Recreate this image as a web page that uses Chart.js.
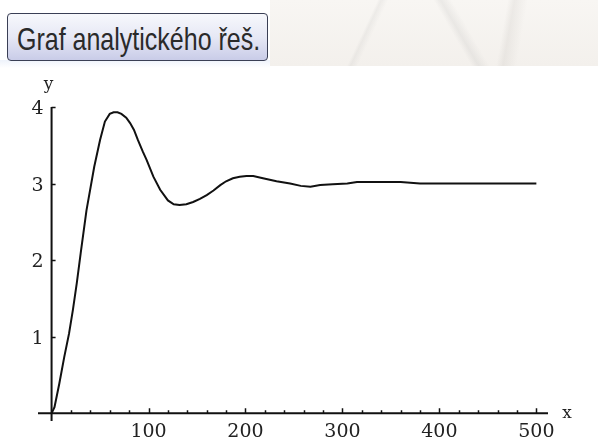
<!DOCTYPE html>
<html>
<head>
<meta charset="utf-8">
<script src="https://cdn.jsdelivr.net/npm/chart.js@4"></script>
<style>
  html, body { margin: 0; padding: 0; background: #fff; }
  #wrap { position: relative; width: 598px; height: 439px; overflow: hidden; }
  #deco {
    position: absolute; left: 270px; top: 0; width: 328px; height: 66px;
    background:
      linear-gradient(115deg, transparent 30%, rgba(160,160,160,0.12) 31%, transparent 33%),
      linear-gradient(60deg, transparent 55%, rgba(160,160,160,0.15) 57%, transparent 60%),
      linear-gradient(100deg, transparent 70%, rgba(170,165,160,0.15) 72%, transparent 76%),
      linear-gradient(180deg, #f8f6f3, #f3f0ec);
  }
  #band { position: absolute; left: 0; top: 60px; width: 270px; height: 8px;
    background: linear-gradient(180deg, #eef3fb, #fff); }
  #btn {
    position: absolute; left: 7px; top: 13px; width: 261px; height: 48px;
    border: 1px solid #3a3f55; border-radius: 4px;
    background: linear-gradient(180deg, #f7f8fc 0%, #e6e8f5 50%, #c9cce8 100%);
    box-sizing: border-box; overflow: hidden;
  }
  #btn span {
    position: absolute; left: 9px; top: 10px;
    font-family: "Liberation Sans", Arial, sans-serif; font-size: 25px; color: #2a2a2a;
    line-height: 25px; white-space: nowrap;
    transform: scale(1.0, 1.25); transform-origin: 0 0;
  }
  #chartBox { position: absolute; left: 0; top: 0; width: 598px; height: 439px; }
</style>
</head>
<body>
<div id="wrap">
  <div id="deco"></div>
  <div id="band"></div>
  <div id="btn"><span>Graf analytického řeš.</span></div>
  <div id="chartBox"><canvas id="myChart"></canvas></div>
</div>
<script>
// Hodnoty
const xValues = [0, 3, 8, 13, 18, 22, 26, 30, 36, 44, 50, 55, 60, 64, 68, 72, 77, 81, 85, 89,
  94, 98, 105, 112, 120, 126, 132, 139, 146, 153, 160, 167, 174, 180, 187, 194, 201, 208,
  218, 232, 246, 257, 267, 277, 290, 305, 315, 330, 345, 360, 380, 420, 460, 500];
const yValues = [0, 0.08, 0.39, 0.73, 1.04, 1.35, 1.70, 2.09, 2.65, 3.22, 3.57, 3.81, 3.91, 3.93,
  3.93, 3.91, 3.86, 3.79, 3.70, 3.57, 3.42, 3.31, 3.09, 2.92, 2.78, 2.73, 2.72, 2.73, 2.76,
  2.80, 2.85, 2.91, 2.98, 3.03, 3.07, 3.09, 3.10, 3.10, 3.07, 3.03, 3.00, 2.97, 2.96, 2.98,
  2.99, 3.00, 3.02, 3.02, 3.02, 3.02, 3.00, 3.00, 3.00, 3.00];

const xTickLabels = [100, 200, 300, 400, 500];
const yTickLabels = [1, 2, 3, 4];
const xMinorStep = 20;

const points = xValues.map((x, i) => ({ x: x, y: yValues[i] }));

// Osy ve stylu Mathematica (kříží se v počátku)
const axesPlugin = {
  id: 'axesPlugin',
  afterDatasetsDraw(chart) {
    const c = chart.ctx;
    const sx = chart.scales.x;
    const sy = chart.scales.y;
    const x0 = sx.getPixelForValue(0);
    const y0 = sy.getPixelForValue(0);

    c.save();
    c.strokeStyle = '#111';
    c.lineWidth = 2;
    c.beginPath();
    c.moveTo(sx.left, y0);
    c.lineTo(sx.right, y0);
    c.moveTo(x0, sy.top);
    c.lineTo(x0, sy.bottom);
    c.stroke();

    // drobné značky na ose x
    c.lineWidth = 1.5;
    c.beginPath();
    for (let v = xMinorStep; v <= 500; v += xMinorStep) {
      const px = Math.round(sx.getPixelForValue(v)) + 0.5;
      const len = v % 100 === 0 ? 5 : 3;
      c.moveTo(px, y0);
      c.lineTo(px, y0 - len);
    }
    yTickLabels.forEach(v => {
      const py = Math.round(sy.getPixelForValue(v)) + 0.5;
      c.moveTo(x0, py);
      c.lineTo(x0 + 4, py);
    });
    c.stroke();

    // popisky
    c.fillStyle = '#222';
    c.font = '19px "DejaVu Serif", serif';
    c.textAlign = 'center';
    c.textBaseline = 'alphabetic';
    xTickLabels.forEach(v => {
      c.fillText(String(v), sx.getPixelForValue(v), y0 + 24);
    });
    c.textAlign = 'right';
    c.textBaseline = 'middle';
    yTickLabels.forEach(v => {
      c.fillText(String(v), x0 - 8, sy.getPixelForValue(v) + 2);
    });
    c.font = '17px "DejaVu Serif", serif';
    c.textAlign = 'center';
    c.fillText('y', x0 - 3, sy.top - 22);
    c.fillText('x', sx.right + 19, y0);
    c.restore();
  }
};

new Chart(document.getElementById('myChart'), {
  type: 'line',
  data: {
    datasets: [{
      data: points,
      borderColor: '#111',
      borderWidth: 2,
      pointRadius: 0,
      tension: 0,
      fill: false
    }]
  },
  options: {
    responsive: true,
    maintainAspectRatio: false,
    animation: false,
    layout: { padding: { left: 38, right: 50, top: 107, bottom: 18 } },
    plugins: { legend: { display: false }, tooltip: { enabled: false } },
    scales: {
      x: { type: 'linear', min: -14, max: 512, display: false },
      y: { type: 'linear', min: -0.1, max: 4.0, display: false }
    }
  },
  plugins: [axesPlugin]
});
</script>
</body>
</html>
